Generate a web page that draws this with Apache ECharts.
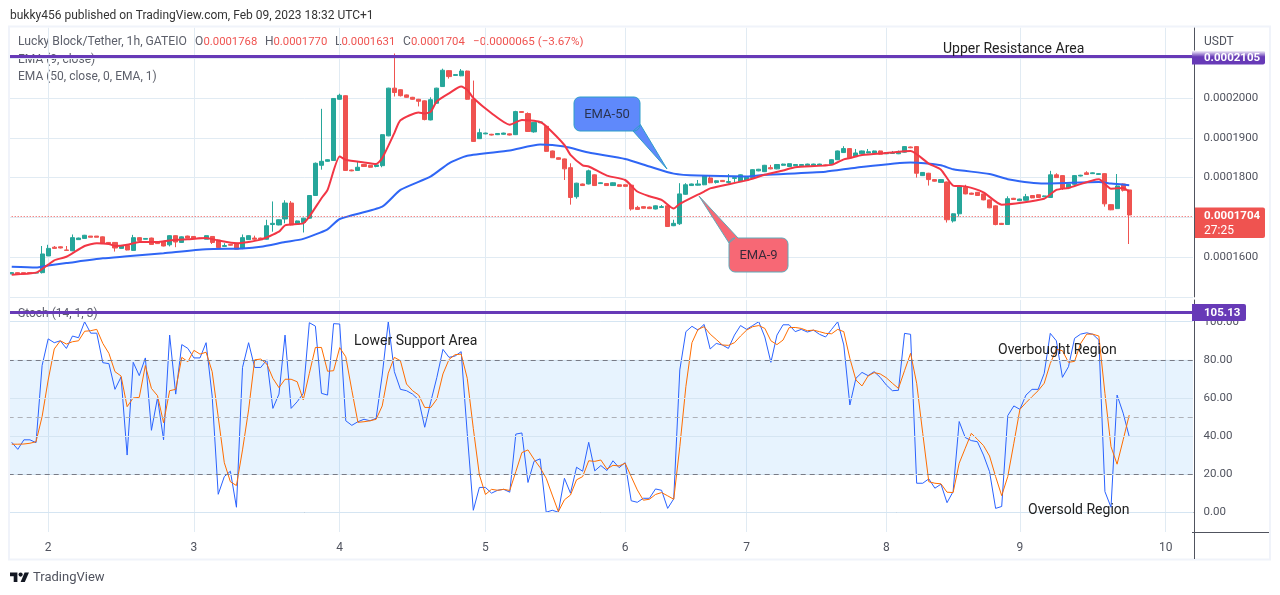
<!DOCTYPE html>
<html>
<head>
<meta charset="utf-8">
<title>LBLOCK/USDT</title>
<script src="https://cdn.jsdelivr.net/npm/echarts@6/dist/echarts.min.js"></script>
<style>
  html, body { margin: 0; padding: 0; background: #fff; }
  #main { width: 1280px; height: 595px; }
</style>
</head>
<body>
<div id="main"></div>
<script>
// prices are in units of 0.0000001 USDT
var opens = [1558,1561,1561,1561,1560,1561,1603,1625,1626,1618,
  1616,1644,1647,1653,1653,1651,1637,1637,1622,1629,
  1617,1649,1645,1648,1638,1639,1631,1654,1637,1653,
  1652,1648,1645,1652,1643,1627,1632,1635,1622,1644,
  1648,1648,1645,1682,1681,1696,1736,1683,1687,1698,
  1755,1831,1841,1843,1997,2006,1819,1818,1833,1831,
  1828,1830,1905,2025,2021,2008,2002,1997,1993,1945,
  1987,2029,2069,2057,2056,2068,1997,1898,1910,1909,
  1908,1909,1910,1908,1966,1961,1915,1938,1929,1867,
  1850,1847,1825,1752,1784,1784,1807,1785,1785,1780,
  1782,1782,1781,1725,1727,1726,1721,1725,1729,1679,
  1684,1758,1780,1781,1782,1799,1788,1793,1788,1798,
  1790,1794,1800,1817,1815,1825,1822,1831,1828,1830,
  1830,1830,1830,1831,1832,1834,1845,1863,1873,1853,
  1860,1862,1862,1867,1860,1861,1860,1864,1877,1878,
  1805,1811,1795,1788,1789,1691,1709,1775,1761,1763,
  1759,1744,1729,1685,1682,1748,1742,1743,1755,1757,
  1752,1750,1807,1805,1774,1783,1804,1812,1810,1808,
  1810,1732,1722,1784,1769];
var closes = [1561,1558,1558,1560,1561,1608,1622,1622,1623,1617,
  1649,1648,1655,1650,1650,1634,1634,1623,1629,1618,
  1649,1642,1647,1632,1634,1628,1654,1638,1651,1648,
  1647,1647,1654,1637,1624,1629,1630,1620,1649,1654,
  1645,1645,1679,1685,1694,1736,1681,1691,1698,1755,
  1836,1841,1845,1999,2007,1818,1817,1826,1828,1826,
  1832,1908,2025,2014,2006,2002,1997,1992,1946,1996,
  2025,2070,2054,2059,2068,1997,1891,1913,1912,1907,
  1911,1912,1907,1966,1964,1916,1939,1940,1866,1850,
  1846,1822,1750,1786,1780,1817,1780,1787,1780,1787,
  1778,1778,1721,1720,1723,1722,1729,1727,1677,1685,
  1759,1782,1784,1784,1805,1787,1792,1790,1790,1800,
  1807,1801,1820,1821,1831,1822,1833,1834,1835,1833,
  1833,1834,1834,1834,1830,1845,1867,1873,1850,1862,
  1867,1865,1867,1859,1863,1862,1863,1878,1875,1811,
  1813,1795,1791,1795,1694,1709,1778,1759,1758,1755,
  1744,1724,1682,1682,1747,1745,1746,1752,1749,1750,
  1754,1807,1800,1774,1783,1805,1806,1808,1812,1810,
  1734,1719,1779,1768,1706];
var lows = [1557,1557,1557,1559,1559,1559,1603,1621,1622,1617,
  1615,1644,1647,1650,1650,1634,1632,1614,1622,1617,
  1616,1642,1645,1632,1633,1627,1627,1625,1636,1648,
  1647,1646,1645,1633,1624,1627,1629,1620,1620,1644,
  1644,1644,1644,1664,1680,1685,1680,1682,1662,1697,
  1754,1820,1840,1842,1996,1817,1816,1817,1827,1825,
  1826,1826,1904,2004,2004,2001,1996,1979,1944,1944,
  1986,2028,2049,2056,2055,1996,1890,1897,1909,1906,
  1907,1908,1906,1907,1963,1915,1913,1937,1865,1850,
  1845,1794,1732,1747,1779,1783,1779,1784,1779,1779,
  1777,1777,1717,1719,1722,1721,1720,1724,1676,1678,
  1681,1757,1779,1780,1781,1786,1785,1789,1785,1789,
  1789,1793,1799,1816,1814,1821,1821,1830,1827,1829,
  1829,1829,1829,1830,1829,1833,1844,1862,1849,1852,
  1859,1861,1861,1858,1859,1860,1859,1863,1874,1800,
  1804,1780,1790,1787,1687,1687,1702,1758,1757,1754,
  1743,1723,1680,1681,1681,1744,1741,1742,1748,1749,
  1751,1749,1799,1769,1771,1782,1803,1807,1809,1807,
  1727,1718,1721,1765,1633];
var highs = [1562,1562,1561,1562,1562,1628,1631,1628,1627,1628,
  1657,1649,1656,1653,1653,1652,1638,1638,1630,1630,
  1656,1650,1648,1649,1639,1640,1655,1655,1652,1654,
  1653,1649,1655,1653,1644,1635,1633,1636,1657,1655,
  1654,1649,1694,1740,1695,1743,1741,1692,1699,1756,
  1838,1973,1846,2000,2011,2007,1820,1841,1834,1832,
  1833,1909,2026,2112,2022,2009,2003,1998,1994,2002,
  2026,2074,2070,2060,2073,2069,2044,1923,1913,1910,
  1912,1913,1911,1968,1967,1964,1940,1941,1930,1868,
  1851,1848,1836,1787,1785,1820,1808,1788,1786,1788,
  1783,1783,1782,1729,1728,1727,1730,1731,1730,1694,
  1786,1786,1785,1794,1806,1805,1793,1794,1809,1801,
  1808,1802,1821,1822,1832,1832,1834,1835,1836,1834,
  1834,1835,1835,1835,1833,1846,1868,1879,1874,1872,
  1868,1872,1868,1868,1864,1867,1868,1879,1878,1879,
  1814,1812,1796,1796,1790,1710,1780,1782,1762,1764,
  1760,1745,1730,1686,1753,1749,1747,1759,1756,1758,
  1755,1817,1811,1806,1784,1806,1807,1816,1813,1811,
  1811,1733,1809,1785,1770];

// [bar, value] vertices of the two averages
var ema9 = [[0,1556],[4,1561],[6,1581],[7,1592],[9,1601],[12,1628],[14,1635],[16,1633],[17,1628],[19,1631],
  [21,1638],[24,1638],[26,1642],[29,1645],[32,1648],[34,1642],[37,1635],[41,1644],[44,1664],[45,1680],
  [48,1685],[49,1702],[51,1748],[52,1769],[54,1853],[55,1845],[58,1838],[60,1834],[61,1849],[63,1912],
  [64,1944],[67,1964],[68,1961],[69,1966],[70,1992],[72,2012],[74,2029],[75,2021],[76,2000],[79,1962],[82,1933],
  [84,1945],[87,1940],[88,1929],[91,1882],[92,1857],[94,1831],[95,1828],[98,1805],[101,1794],[103,1765],
  [105,1753],[107,1744],[109,1722],[110,1734],[114,1765],[115,1773],[121,1793],[124,1807],[127,1818],[129,1826],
  [135,1832],[137,1846],[138,1849],[140,1857],[144,1862],[148,1867],[151,1835],[153,1820],[155,1780],[157,1778],
  [160,1763],[163,1732],[170,1747],[172,1769],[174,1774],[179,1796],[181,1772],[183,1774],[184,1764]];
var ema50 = [[0,1576],[4,1574],[6,1579],[9,1585],[15,1597],[19,1602],[25,1610],[32,1620],[38,1622],[41,1626],
  [45,1638],[48,1646],[52,1670],[54,1696],[61,1727],[64,1769],[69,1803],[72,1836],[75,1855],[82,1868],
  [87,1883],[91,1878],[95,1863],[101,1847],[105,1828],[109,1810],[113,1805],[121,1803],[124,1807],[134,1815],
  [139,1825],[148,1838],[153,1831],[155,1821],[161,1809],[164,1796],[170,1785],[179,1789],[181,1785],[184,1781]];

var stochK = [36.7,33,38,38,36.5,77,91,89,90,86,
  92.5,91.6,100,94,94,78.5,78,64.5,71,30,
  78.7,71.7,81,43,60,38,93,62,88,86,
  81,81,89,61,9.4,18.7,21.5,2.6,76,89,
  76,76,80,54.5,62,93,54.5,58,62.4,99.5,
  97.7,62.4,61.5,99,98.8,48,45.6,47.5,48.8,48,
  49.3,72,100,73.8,64.5,63.8,62,59,44.6,58,
  70.8,85.5,81.3,82,84.3,41.4,1,13,13,10,
  11.5,12,10.5,41,41.6,15.6,26.7,28,0,1,
  0,17.8,10,23.6,21.5,36.7,21.7,24.5,21.9,27,
  23.4,26,6,5.2,7.3,7.3,12.2,11.5,2,7,
  74.7,94.8,97.6,95.6,98.6,85.7,88.6,87.8,86,93,
  98,96,98,100,92,78.7,93,98.4,98.4,94.8,
  96,94.6,95.6,93.4,92,96,100,87.8,56.3,70.3,
  73.4,71.7,73.8,70.8,66.8,63.8,64,93.9,93.4,15.2,
  15.2,17.5,12.6,14.7,5,10.8,47.6,39.2,37.6,37,
  30,21.3,2,3,50.7,55.8,54,61.5,64.5,64.5,
  72.9,93.9,90,70.8,76.4,91.3,93.5,94.2,93.4,90.4,
  10.8,2.6,61.5,52,39.7];
var stochD = [35.7,35.7,35.8,36.2,37,50.2,69.4,85.7,90,88.3,
  89.5,90,95,95.3,96,88.6,83.4,73.8,71.5,55.4,
  60,60.3,77,65,61.2,47,63.8,64.5,81.3,79,
  85,83,84,73.8,50,26,16,14,32.7,53.7,
  80,80.4,77.8,70.3,65.4,69.8,69.8,68.5,59,72.9,
  86.5,86.5,74,74.3,86.4,81.6,64,47.2,47.5,48,
  48.8,55.8,73,81.3,79.5,67.3,63.8,61.5,55,55,
  59.4,72.6,80.2,82.7,83,70.3,44,19.6,9.3,12,
  11.5,12,11.4,21.3,31.3,32.7,27.8,23.4,17.8,9,
  0.3,6.5,9,17,18.7,27,26.7,27.4,22.7,24.6,
  24.3,25.7,18.7,11.7,6.3,6.8,9.3,10.3,8.6,6.8,
  34.4,66,89,96,97.4,93.5,90.7,87.8,87.6,89,
  92.5,95.6,97.4,98,96.5,90,88,90.4,96.9,97,
  96.5,95.3,95.6,94.8,93.9,93.7,96,94.8,80.8,69.4,
  66.3,71.5,73.3,72.6,70.6,67.7,65,74.3,83.4,67.7,
  41.4,16,15.2,14.9,10.5,10.3,25.7,33.6,41.4,38.3,
  35,29.5,18.7,8.7,18.7,36.2,54,57.5,60.7,63.8,
  67.7,78.1,85.5,84.8,78.7,79.2,88.6,93.5,93.5,92.5,
  62.4,34.4,25.2,38,51];

var barCount = 195; // room to the right of the last candle
var dayBars = [6,30,54,78,101,121,144,166,190];
var dayLabels = ['2','3','4','5','6','7','8','9','10'];
var priceTicks = [1600,1700,1800,1900,2000];
var stochTicks = [0,20,40,60,80,100];
var stochBand = [20,80];
var stochMid = 50;
var resistancePrice = 2105;
var supportLevel = 105.13;
var lastPrice = 1704;

var FONT = 'Roboto, sans-serif';
var TEXT = '#50535e';
var LEGEND = '#5d606b';
var RED = '#ef5350';
var GREEN = '#26a69a';
var PURPLE = '#673ab7';
var GRID = '#e1ebf3';

var categories = [];
for (var b = 0; b < barCount; b++) categories.push(String(b));

var candles = opens.map(function(o, i) {
  return [o, closes[i], lows[i], highs[i]];
});

function priceText(v) {
  return (v / 1e7).toFixed(7);
}

function label(x, y, str, size, color, extra) {
  var style = {
    text: str, x: x, y: y, fill: color,
    font: (extra && extra.weight || 'normal') + ' ' + size + 'px ' + FONT,
    textVerticalAlign: 'middle',
    textAlign: extra && extra.align || 'left'
  };
  return { type: 'text', z: extra && extra.z != null ? extra.z : 50, silent: true, style: style };
}

// rounded box outline with a pointer, graphic has no free path type
function corner(pts, cx, cy, r, from) {
  for (var k = 0; k <= 4; k++) {
    var a = (from + k * 22.5) * Math.PI / 180;
    pts.push([cx + r * Math.cos(a), cy + r * Math.sin(a)]);
  }
}

function calloutPoints(x0, y0, x1, y1, r, tail, where) {
  var pts = [];
  corner(pts, x0 + r, y0 + r, r, 180);
  if (where === 'top') tail.forEach(function(p) { pts.push(p); });
  corner(pts, x1 - r, y0 + r, r, 270);
  if (where === 'right') tail.forEach(function(p) { pts.push(p); });
  corner(pts, x1 - r, y1 - r, r, 0);
  corner(pts, x0 + r, y1 - r, r, 90);
  return pts;
}

function dayAxis(gridIndex, showLabels) {
  return {
    type: 'category',
    gridIndex: gridIndex,
    data: categories,
    boundaryGap: true,
    axisLine: { show: showLabels, lineStyle: { color: TEXT, width: 1 } },
    axisTick: { show: false },
    axisLabel: {
      show: showLabels,
      color: TEXT,
      fontFamily: FONT,
      fontSize: 12,
      margin: 10,
      interval: function(i) { return dayBars.indexOf(i) >= 0; },
      formatter: function(v, i) {
        var k = dayBars.indexOf(+v);
        return k >= 0 ? dayLabels[k] : '';
      }
    },
    splitLine: {
      show: true,
      alignWithLabel: true,
      interval: function(i) { return dayBars.indexOf(i) >= 0; },
      lineStyle: { color: GRID, width: 1 }
    }
  };
}

var option = {
  animation: false,
  backgroundColor: '#fff',
  textStyle: { fontFamily: FONT },
  grid: [
    { left: 8.7, right: 87, top: 27.7, height: 269.2 },
    { left: 8.7, right: 87, top: 300, height: 232 }
  ],
  xAxis: [dayAxis(0, false), dayAxis(1, true)],
  yAxis: [
    {
      type: 'value', gridIndex: 0, position: 'right', offset: 1.5,
      min: 1500, max: 2177, interval: 100,
      axisLine: { show: true, lineStyle: { color: TEXT } },
      axisTick: { show: false },
      axisLabel: {
        color: TEXT, fontFamily: FONT, fontSize: 11.5, margin: 9, padding: [2, 0, 0, 0],
        showMaxLabel: false,
        formatter: function(v) {
          return priceTicks.indexOf(v) >= 0 ? priceText(v) : '';
        }
      },
      splitLine: { show: true, showMaxLine: false, lineStyle: { color: GRID } }
    },
    {
      type: 'value', gridIndex: 1, position: 'right', offset: 1.5,
      min: -10.4, max: 111.42,
      axisLine: { show: true, lineStyle: { color: TEXT } },
      axisTick: { show: false, customValues: stochTicks },
      axisLabel: {
        color: TEXT, fontFamily: FONT, fontSize: 11.5, margin: 9, padding: [2, 0, 0, 0],
        customValues: stochTicks,
        formatter: function(v) { return v.toFixed(2); }
      },
      splitLine: { show: false }
    }
  ],
  series: [
    {
      type: 'candlestick', name: 'price',
      xAxisIndex: 0, yAxisIndex: 0,
      data: candles,
      barWidth: 4.6,
      itemStyle: { color: GREEN, color0: RED, borderColor: GREEN, borderColor0: RED, borderWidth: 1 },
      markLine: {
        silent: true, symbol: 'none', label: { show: false }, animation: false,
        data: [
          { yAxis: lastPrice, lineStyle: { color: RED, type: [1, 2], width: 1 } },
          { yAxis: resistancePrice, lineStyle: { color: PURPLE, type: 'solid', width: 3 } }
        ]
      }
    },
    {
      type: 'line', name: 'EMA 50', xAxisIndex: 0, yAxisIndex: 0,
      data: ema50, showSymbol: false, symbol: 'none', z: 3, smooth: 0.2,
      lineStyle: { color: '#2f66f5', width: 2 }
    },
    {
      type: 'line', name: 'EMA 9', xAxisIndex: 0, yAxisIndex: 0,
      data: ema9, showSymbol: false, symbol: 'none', z: 4, smooth: 0.2,
      lineStyle: { color: '#f23645', width: 2 }
    },
    {
      // band and levels of the lower pane
      type: 'line', name: 'levels', xAxisIndex: 1, yAxisIndex: 1,
      data: [], z: 1,
      markLine: {
        silent: true, symbol: 'none', label: { show: false }, animation: false,
        data: stochTicks.map(function(t) {
          return { yAxis: t, lineStyle: { color: '#d5e5f2', type: 'solid', width: 1 } };
        }).concat([
          { yAxis: stochBand[1], lineStyle: { color: '#787b86', type: [5, 4], width: 1 } },
          { yAxis: stochMid, lineStyle: { color: '#aeb1b8', type: [5, 4], width: 1 } },
          { yAxis: stochBand[0], lineStyle: { color: '#787b86', type: [5, 4], width: 1 } }
        ])
      },
      markArea: {
        silent: true, animation: false,
        itemStyle: { color: 'rgba(33,150,243,0.11)' },
        data: [[{ yAxis: stochBand[0] }, { yAxis: stochBand[1] }]]
      }
    },
    {
      type: 'line', name: '%K', xAxisIndex: 1, yAxisIndex: 1,
      data: stochK, showSymbol: false, symbol: 'none', z: 3,
      lineStyle: { color: '#2962ff', width: 1 },
      markLine: {
        silent: true, symbol: 'none', label: { show: false }, animation: false,
        data: [{ yAxis: supportLevel, lineStyle: { color: PURPLE, type: 'solid', width: 3 } }]
      }
    },
    {
      type: 'line', name: '%D', xAxisIndex: 1, yAxisIndex: 1,
      data: stochD, showSymbol: false, symbol: 'none', z: 4,
      lineStyle: { color: '#ff6d00', width: 1 }
    }
  ],
  graphic: { elements: [
    // pane legends sit under the purple levels
    label(10, 16, 'bukky456 published on TradingView.com, Feb 09, 2023 18:32 UTC+1', 12, '#333333'),
    label(18, 42, 'Lucky Block/Tether, 1h, GATEIO', 12.2, LEGEND, { z: 0 }),
    label(195, 42, 'O', 12, LEGEND, { z: 0 }),
    label(203.5, 42, '0.0001768', 11.3, RED, { z: 0 }),
    label(265, 42, 'H', 12, LEGEND, { z: 0 }),
    label(273.5, 42, '0.0001770', 11.3, RED, { z: 0 }),
    label(335, 42, 'L', 12, LEGEND, { z: 0 }),
    label(341.5, 42, '0.0001631', 11.3, RED, { z: 0 }),
    label(403, 42, 'C', 12, LEGEND, { z: 0 }),
    label(411, 42, '0.0001704', 11.3, RED, { z: 0 }),
    label(473, 42, '−0.0000065 (−3.67%)', 11.6, RED, { z: 0 }),
    label(18, 60, 'EMA (9, close)', 12, LEGEND, { z: 0 }),
    label(18, 77, 'EMA (50, close, 0, EMA, 1)', 12, LEGEND, { z: 0 }),
    label(18, 314, 'Stoch (14, 1, 3)', 12, LEGEND, { z: 0 }),

    label(943, 49, 'Upper Resistance Area', 14, '#222'),
    label(354, 341, 'Lower Support Area', 14, '#222'),
    label(998, 350, 'Overbought Region', 14, '#222'),
    label(1028, 510, 'Oversold Region', 14, '#222'),

    // callouts
    {
      type: 'polygon', z: 40, silent: true,
      shape: { points: calloutPoints(574, 97, 640, 131, 6, [[640, 124], [667, 169], [633, 131]], 'right') },
      style: { fill: '#5f89fb', stroke: '#2f9ec9', lineWidth: 1 }
    },
    label(607, 115, 'EMA-50', 13, '#2a3350', { align: 'center' }),
    {
      type: 'polygon', z: 40, silent: true,
      shape: { points: calloutPoints(729, 238, 788, 272, 6, [[729, 243], [699, 196], [738, 238]], 'top') },
      style: { fill: '#f76875', stroke: '#5fa9b8', lineWidth: 1 }
    },
    label(758.5, 256, 'EMA-9', 13, '#3a2a3a', { align: 'center' }),

    // right scale tags
    label(1204, 42, 'USDT', 12, TEXT),
    {
      type: 'rect', z: 45, silent: true,
      shape: { x: 1192, y: 50.5, width: 73, height: 14, r: [0, 2, 2, 0] },
      style: { fill: { type: 'linear', x: 0, y: 0, x2: 0, y2: 1,
        colorStops: [{ offset: 0, color: '#ffffff' }, { offset: 0.45, color: PURPLE }, { offset: 1, color: PURPLE }] } }
    },
    label(1204, 58.5, priceText(resistancePrice), 11.5, '#fff', { weight: 'bold' }),
    {
      type: 'rect', z: 45, silent: true,
      shape: { x: 1195, y: 207.5, width: 70, height: 30.5, r: [0, 2, 2, 0] },
      style: { fill: RED }
    },
    label(1204, 216, priceText(lastPrice), 11.5, '#fff', { weight: 'bold' }),
    label(1204, 230.5, '27:25', 12, '#fff'),
    {
      type: 'rect', z: 45, silent: true,
      shape: { x: 1192, y: 304, width: 54, height: 17, r: [0, 2, 2, 0] },
      style: { fill: PURPLE }
    },
    label(1204, 313, supportLevel.toFixed(2), 11.5, '#fff', { weight: 'bold' }),

    // outer frame
    {
      type: 'rect', z: 30, silent: true,
      shape: { x: 9, y: 26.5, width: 1261, height: 533 },
      style: { fill: 'none', stroke: '#f0f3fa', lineWidth: 2 }
    },
    { type: 'rect', z: 30, silent: true, shape: { x: 1192, y: 532, width: 77, height: 1 }, style: { fill: TEXT } },
    { type: 'rect', z: 30, silent: true, shape: { x: 1194, y: 532, width: 1, height: 27 }, style: { fill: TEXT } },

    // logo
    { type: 'polygon', z: 50, silent: true, shape: { points: [[10,572.5],[17.4,572.5],[17.4,582],[13.7,582],[13.7,576.2],[10,576.2]] }, style: { fill: '#131722' } },
    { type: 'circle', z: 50, silent: true, shape: { cx: 20.6, cy: 574.6, r: 2.1 }, style: { fill: '#131722' } },
    { type: 'polygon', z: 50, silent: true, shape: { points: [[24.6,572.5],[29,572.5],[24.8,582],[20.6,582]] }, style: { fill: '#131722' } },
    label(33, 578, 'TradingView', 13, '#50535e')
  ] }
};

var chart = echarts.init(document.getElementById('main'), null, { renderer: 'canvas' });
chart.setOption(option);
</script>
</body>
</html>
